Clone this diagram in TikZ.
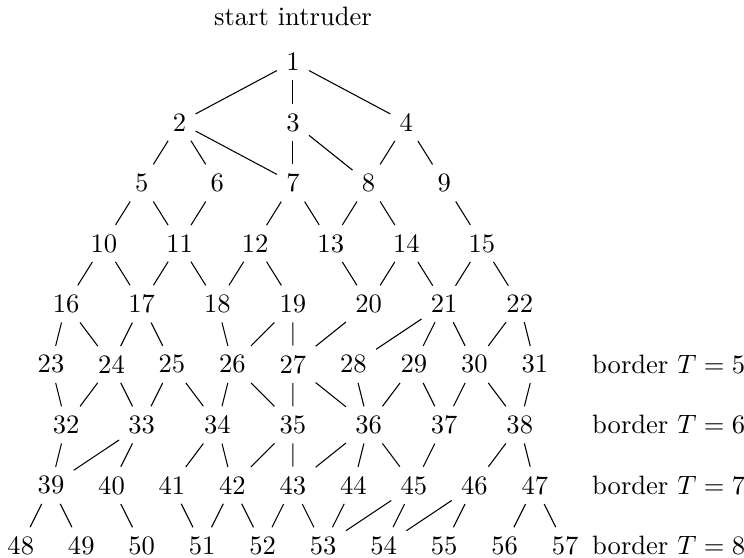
\documentclass[tikz,border=0pt]{standalone}
\usepackage{amsmath,amssymb}
\usetikzlibrary{positioning}

\begin{document}
\begin{tikzpicture}[
  st/.style={inner sep=.3333em},
  borderlab/.style={inner sep=1pt},
  link/.style={draw=black,line width=0.4pt}
]
\useasboundingbox (-3.875,-6.56) rectangle (5.966,0.82);
\node (start) at (0,0.6) {start intruder};
% states, row by row: first/last/x of first/step/y
\foreach \first/\last/\xs/\dx/\y in {1/1/0/0/0, 2/4/-1.5/1.5/-0.8, 5/9/-2/1/-1.6,
    10/15/-2.5/1/-2.4, 16/22/-3/1/-3.2, 23/31/-3.2/0.8/-4, 32/38/-3/1/-4.8,
    39/47/-3.2/0.8/-5.6, 48/57/-3.6/0.8/-6.4}
  \foreach \n in {\first,...,\last}
    \node[st] (n\n) at ({\xs+(\n-\first)*\dx},\y) {\n};
% moves
\foreach \a/\b in {1/2,1/3,1/4, 2/5,2/6,2/7,3/7,3/8,4/8,4/9,
    5/10,5/11,6/11,7/12,7/13,8/13,8/14,9/15,
    10/16,10/17,11/17,11/18,12/18,12/19,13/20,14/20,14/21,15/21,15/22,
    16/23,16/24,17/24,17/25,18/26,19/26,19/27,20/27,21/28,21/29,21/30,22/30,22/31,
    23/32,24/32,24/33,25/33,25/34,26/34,26/35,27/35,27/36,28/36,29/36,29/37,30/37,30/38,31/38,
    32/39,33/39,33/40,34/41,34/42,35/42,35/43,36/43,36/44,36/45,37/45,38/46,38/47,
    39/48,39/49,40/50,41/51,42/51,42/52,43/52,43/53,44/53,45/53,45/54,46/54,46/55,47/56,47/57}
  \draw[link] (n\a) -- (n\b);
% borders
\foreach \t/\y in {5/-4,6/-4.8,7/-5.6,8/-6.4}
  \node[borderlab] (border\t) at (4.97,\y) {border $T=\t$};
\end{tikzpicture}
\end{document}
